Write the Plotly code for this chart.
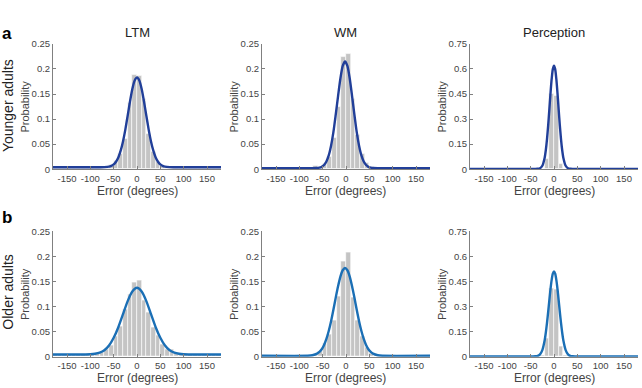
import plotly.graph_objects as go

W, H = 642, 388

# ---------------- data ----------------
bin_centers = [-175, -165, -155, -145, -135, -125, -115, -105, -95, -85, -75, -65, -55, -45, -35, -25, -15, -5,
               5, 15, 25, 35, 45, 55, 65, 75, 85, 95, 105, 115, 125, 135, 145, 155, 165, 175]

ya_ltm_bars = [.004, .004, .004, .004, .004, .004, .004, .004, .004, .004, .004,
               .005, .008, .016, .030, .060, .132, .188, .186, .140, .070, .035, .015, .007,
               .005, .004, .004, .004, .004, .004, .004, .004, .004, .004, .004, .004]
ya_wm_bars = [.002, .002, .002, .002, .002, .002, .002, .002, .002, .002, .002,
              .006, .004, .010, .025, .062, .125, .225, .230, .140, .068, .030, .012, .005,
              .003, .002, .002, .002, .002, .002, .002, .002, .002, .002, .002, .002]
ya_per_bars = [.002, .002, .002, .002, .002, .002, .002, .002, .002, .002, .002,
               .002, .002, .002, .002, .004, .060, .452, .440, .030, .004, .002, .002, .002,
               .002, .002, .002, .002, .002, .002, .002, .002, .002, .002, .002, .002]
oa_ltm_bars = [.004, .004, .004, .004, .004, .004, .004, .004, .004,
               .006, .008, .014, .022, .040, .060, .095, .125, .148, .153, .112, .088, .058, .042, .025, .015, .014, .006,
               .004, .004, .004, .004, .004, .004, .004, .004, .004]
oa_wm_bars = [.002, .002, .002, .002, .002, .002, .002, .002, .002, .002, .002,
              .004, .010, .027, .045, .073, .120, .191, .208, .118, .073, .040, .018, .006,
              .003, .002, .002, .002, .002, .002, .002, .002, .002, .002, .002, .002]
oa_per_bars = [.002, .002, .002, .002, .002, .002, .002, .002, .002, .002, .002,
               .002, .002, .002, .002, .006, .110, .410, .400, .060, .006, .002, .002, .002,
               .002, .002, .002, .002, .002, .002, .002, .002, .002, .002, .002, .002]

ya_ltm_fit_x = [-180, -80, -70, -60, -55, -50, -45, -40, -35, -30, -25, -20, -15, -10, -5, 0, 5, 10, 15, 20, 25, 30,
                35, 40, 45, 50, 55, 60, 70, 80, 180]
ya_ltm_fit_y = [.004, .004, .0042, .0052, .0067, .0096, .015, .0235, .037, .0555, .079, .107, .135, .160, .177, .183,
                .177, .160, .135, .107, .079, .0555, .037, .0235, .015, .0096, .0067, .0052, .0042, .004, .004]
ya_wm_fit_x = [-180, -72, -62, -57, -52, -47, -42, -37, -32, -27, -22, -17, -12, -7, -2, 3, 8, 13, 18, 23, 28, 33,
               38, 43, 48, 53, 58, 68, 180]
ya_wm_fit_y = [.002, .002, .0024, .0031, .0048, .0084, .0154, .0276, .047, .074, .109, .146, .181, .206, .215, .206,
               .181, .146, .109, .074, .047, .0276, .0154, .0084, .0048, .0031, .0024, .002, .002]
ya_per_fit_x = [-180, -40, -35, -30, -25, -20, -17.5, -15, -12.5, -10, -7.5, -5, -2.5, 0, 2.5, 5, 7.5, 10, 12.5,
                15, 17.5, 20, 25, 30, 35, 40, 180]
ya_per_fit_y = [.002, .002, .003, .006, .021, .069, .115, .180, .262, .357, .4545, .540, .599, .620, .599, .540,
                .4545, .357, .262, .180, .115, .069, .021, .006, .003, .002, .002]
oa_ltm_fit_x = [-180, -110, -100, -90, -80, -70, -60, -50, -40, -30, -20, -10, 0, 10, 20, 30, 40, 50, 60, 70, 80,
                90, 100, 110, 180]
oa_ltm_fit_y = [.0045, .0046, .005, .006, .0083, .013, .0225, .038, .059, .085, .111, .130, .1375, .130, .111, .085,
                .059, .038, .0225, .013, .0083, .006, .005, .0046, .0045]
oa_wm_fit_x = [-180, -82, -72, -62, -57, -52, -47, -42, -37, -32, -27, -22, -17, -12, -7, -2, 3, 8, 13, 18, 23, 28,
               33, 38, 43, 48, 53, 58, 68, 78, 180]
oa_wm_fit_y = [.002, .002, .003, .0063, .0097, .015, .0236, .0355, .0514, .071, .0938, .118, .1407, .160, .1725,
               .177, .1725, .160, .1407, .118, .0938, .071, .0514, .0355, .0236, .015, .0097, .0063, .003, .002, .002]
oa_per_fit_x = [-180, -45, -40, -35, -30, -25, -20, -17.5, -15, -12.5, -10, -7.5, -5, -2.5, 0, 2.5, 5, 7.5, 10,
                12.5, 15, 17.5, 20, 25, 30, 35, 40, 45, 180]
oa_per_fit_y = [.002, .002, .0027, .005, .014, .040, .099, .1453, .2025, .2683, .338, .4046, .460, .497, .510, .497,
                .460, .4046, .338, .2683, .2025, .1453, .099, .040, .014, .005, .0027, .002, .002]

conditions = ["LTM", "WM", "Perception"]
groups = ["Younger adults", "Older adults"]
panel_letters = ["a", "b"]
x_ticks = [-150, -100, -50, 0, 50, 100, 150]
x_ticktext = ["-150", "-100", "-50", "0", "50", "100", "150"]
y_ticks_mem = [0, 0.05, 0.1, 0.15, 0.2, 0.25]
y_ticktext_mem = ["0", "0.05", "0.1", "0.15", "0.2", "0.25"]
y_ticks_per = [0, 0.15, 0.3, 0.45, 0.6, 0.75]
y_ticktext_per = ["0", "0.15", "0.3", "0.45", "0.6", "0.75"]

bars = [[ya_ltm_bars, ya_wm_bars, ya_per_bars], [oa_ltm_bars, oa_wm_bars, oa_per_bars]]
fits = [[(ya_ltm_fit_x, ya_ltm_fit_y), (ya_wm_fit_x, ya_wm_fit_y), (ya_per_fit_x, ya_per_fit_y)],
        [(oa_ltm_fit_x, oa_ltm_fit_y), (oa_wm_fit_x, oa_wm_fit_y), (oa_per_fit_x, oa_per_fit_y)]]

# ---------------- layout / style ----------------
FONT = "Arial, Liberation Sans, sans-serif"
BAR_COLOR = "#c4c4c4"
LINE_COLORS = ["#213f99", "#1b6fb5"]
AX_COLOR = "#808080"
TXT = "#444444"

col_px = [(53, 221), (262, 430), (470, 638)]
row_px = [(39, 168), (232, 361)]

fig = go.Figure()
annotations = []
k = 0
for r in range(2):
    for c in range(3):
        k += 1
        xa = "x" if k == 1 else f"x{k}"
        ya = "y" if k == 1 else f"y{k}"
        fig.add_trace(go.Bar(x=bin_centers, y=bars[r][c], width=10, xaxis=xa, yaxis=ya,
                             marker=dict(color=BAR_COLOR, line=dict(color="white", width=0.6)),
                             showlegend=False, hoverinfo="skip"))
        fx, fy = fits[r][c]
        fig.add_trace(go.Scatter(x=fx, y=fy, mode="lines", xaxis=xa, yaxis=ya,
                                 line=dict(color=LINE_COLORS[r], width=2.4, shape="spline", smoothing=0.6),
                                 showlegend=False, hoverinfo="skip"))
        x0, x1 = col_px[c]
        y0, y1 = row_px[r]
        yt = (y_ticks_per, y_ticktext_per) if c == 2 else (y_ticks_mem, y_ticktext_mem)
        xkey = "xaxis" if k == 1 else f"xaxis{k}"
        ykey = "yaxis" if k == 1 else f"yaxis{k}"
        fig.layout[xkey] = dict(domain=[x0 / W, x1 / W], anchor=ya, range=[-180, 180],
                                tickvals=x_ticks, ticktext=x_ticktext, tickangle=0, ticks="inside", ticklen=3,
                                tickcolor=AX_COLOR,
                                showline=True, linecolor=AX_COLOR, linewidth=1, showgrid=False,
                                zeroline=False, tickfont=dict(family=FONT, size=9.5, color=TXT))
        fig.layout[ykey] = dict(domain=[1 - y1 / H, 1 - y0 / H], anchor=xa, range=[0, yt[0][-1]],
                                tickvals=yt[0], ticktext=yt[1], ticks="inside", ticklen=3, tickcolor=AX_COLOR,
                                showline=True, linecolor=AX_COLOR, linewidth=1, showgrid=False,
                                zeroline=False, tickfont=dict(family=FONT, size=9.5, color=TXT))
        # Probability label
        annotations.append(dict(text="Probability", x=(x0 - 28) / W, y=1 - (y0 + y1) / 2 / H,
                                xref="paper", yref="paper", showarrow=False, textangle=-90,
                                xanchor="center", yanchor="middle",
                                font=dict(family=FONT, size=11, color=TXT)))
        # Error label
        annotations.append(dict(text="Error (degrees)", x=(x0 + 84) / W, y=1 - (y1 + 22) / H,
                                xref="paper", yref="paper", showarrow=False,
                                xanchor="center", yanchor="middle",
                                font=dict(family=FONT, size=12, color=TXT)))
        if r == 0:
            annotations.append(dict(text=conditions[c], x=(x0 + 84) / W, y=1 - 27 / H,
                                    xref="paper", yref="paper", showarrow=False,
                                    xanchor="center", yanchor="middle",
                                    font=dict(family=FONT, size=13, color="#222222")))

for r, (yc, yl) in enumerate([(103, 28), (295, 218)]):
    annotations.append(dict(text=groups[r], x=8 / W, y=1 - yc / H, xref="paper", yref="paper",
                            showarrow=False, textangle=-90, xanchor="center", yanchor="middle",
                            font=dict(family=FONT, size=14, color="#222222")))
    annotations.append(dict(text="<b>" + panel_letters[r] + "</b>", x=0, y=1 - yl / H,
                            xref="paper", yref="paper", showarrow=False, xanchor="left", yanchor="middle",
                            font=dict(family=FONT, size=17, color="#000000")))

fig.update_layout(width=W, height=H, margin=dict(l=0, r=0, t=0, b=0),
                  paper_bgcolor="white", plot_bgcolor="white", bargap=0,
                  annotations=annotations)

fig.write_html("out.html")
